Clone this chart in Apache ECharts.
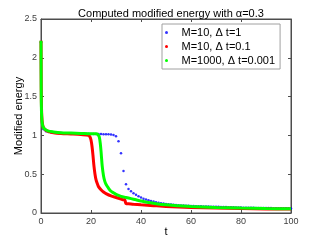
<!DOCTYPE html>
<html><head><meta charset="utf-8">
<script src="https://cdn.jsdelivr.net/npm/echarts@6/dist/echarts.min.js"></script>
<style>html,body{margin:0;padding:0;background:#fff}#c{width:321px;height:241px}</style>
</head><body><div id="c"></div>
<script>
var titleText = 'Computed modified energy with \u03b1=0.3';
var seriesNames = ['M=10, \u0394 t=1', 'M=10, \u0394 t=0.1', 'M=1000, \u0394 t=0.001'];
var xTicks = [0, 20, 40, 60, 80, 100];
var yTicks = [0, 0.5, 1, 1.5, 2, 2.5];

// Blue dots at t = 0,1,...,100
var blueT = [];
for (var i = 0; i <= 100; i++) blueT.push(i);
var blueV = [2.2, 1.08, 1.055, 1.045, 1.04, 1.035, 1.033, 1.031, 1.03, 1.029, 1.028,
  1.027, 1.026, 1.025, 1.024, 1.023, 1.022, 1.021, 1.02, 1.02, 1.019,
  1.018, 1.018, 1.017, 1.017, 1.016, 1.016, 1.015, 1.012, 1.005, 0.99,
  0.925, 0.77, 0.54, 0.37, 0.31, 0.28, 0.255, 0.235, 0.215, 0.2,
  0.185, 0.175, 0.165, 0.155, 0.147, 0.14, 0.133, 0.127, 0.121, 0.116,
  0.112, 0.108, 0.105, 0.102, 0.1, 0.098, 0.096, 0.094, 0.092, 0.09,
  0.089, 0.088, 0.087, 0.086, 0.085, 0.084, 0.083, 0.082, 0.081, 0.08,
  0.079, 0.078, 0.077, 0.076, 0.075, 0.074, 0.073, 0.072, 0.071, 0.07,
  0.069, 0.069, 0.068, 0.067, 0.067, 0.066, 0.065, 0.065, 0.064, 0.064,
  0.063, 0.063, 0.062, 0.062, 0.061, 0.061, 0.06, 0.06, 0.06, 0.059];

var redT = [0, 0.1, 0.2, 0.4, 0.7, 1, 1.5, 2, 3, 5, 8, 12, 16, 19, 19.6, 20, 20.4, 20.8, 21.2, 21.6, 22, 22.5, 23, 24, 25, 26, 28, 30, 32, 33, 33.4, 33.7, 34, 35, 37, 40, 45, 50, 55, 60, 70, 80, 90, 100];
var redV = [2.22, 1.6, 1.35, 1.2, 1.13, 1.1, 1.08, 1.065, 1.05, 1.035, 1.025, 1.018, 1.01, 1.0, 0.98, 0.94, 0.86, 0.74, 0.6, 0.5, 0.43, 0.38, 0.34, 0.3, 0.27, 0.25, 0.22, 0.2, 0.18, 0.17, 0.175, 0.15, 0.12, 0.118, 0.112, 0.105, 0.095, 0.085, 0.078, 0.072, 0.064, 0.058, 0.053, 0.05];

var greenT = [0, 0.05, 0.1, 0.2, 0.4, 0.7, 1, 1.5, 2, 3, 5, 8, 12, 16, 20, 22, 22.8, 23.3, 23.7, 24.1, 24.5, 25, 25.5, 26, 27, 28, 29, 30, 32, 34, 36, 38, 40, 43, 46, 50, 55, 60, 70, 80, 90, 100];
var greenV = [2.22, 1.8, 1.5, 1.3, 1.18, 1.12, 1.1, 1.08, 1.07, 1.055, 1.045, 1.035, 1.03, 1.025, 1.02, 1.02, 1.01, 0.98, 0.9, 0.76, 0.6, 0.48, 0.41, 0.37, 0.32, 0.28, 0.26, 0.24, 0.215, 0.2, 0.185, 0.17, 0.155, 0.135, 0.12, 0.105, 0.095, 0.085, 0.072, 0.064, 0.058, 0.054];

function zip(a, b) { return a.map(function (v, i) { return [v, b[i]]; }); }

var axisColor = '#4d4d4d';
var labelStyle = { fontSize: 9, color: '#404040', fontFamily: 'Liberation Sans, Arial, sans-serif' };
var chart = echarts.init(document.getElementById('c'), null, { renderer: 'canvas' });
chart.setOption({
  animation: false,
  backgroundColor: '#fff',
  textStyle: { fontFamily: 'Liberation Sans, Arial, sans-serif' },
  title: {
    text: titleText, left: 166, top: 3, textAlign: 'center',
    textStyle: { fontSize: 11, fontWeight: 'normal', color: '#000' }
  },
  legend: {
    orient: 'vertical', left: 162, top: 24,
    padding: [2, 5, 2, 3], itemGap: 1,
    itemWidth: 20, itemHeight: 3,
    backgroundColor: '#fff', borderColor: '#a0a0a0', borderWidth: 1,
    textStyle: { fontSize: 11, color: '#000', lineHeight: 13 },
    data: [
      { name: seriesNames[0], icon: 'circle', itemStyle: { color: '#0000ff' } },
      { name: seriesNames[1], icon: 'circle', itemStyle: { color: '#ff0000' } },
      { name: seriesNames[2], icon: 'circle', itemStyle: { color: '#00ff00' } }
    ]
  },
  grid: { left: 41, right: 30, top: 19, bottom: 28, containLabel: false, outerBoundsMode: 'none',
    show: true, borderColor: axisColor, borderWidth: 1, backgroundColor: 'transparent' },
  xAxis: [{
    type: 'value', min: 0, max: 100, interval: 20,
    name: 't', nameLocation: 'middle', nameGap: 13, nameMoveOverlap: false,
    nameTextStyle: { fontSize: 11, color: '#000' },
    axisLine: { show: true, lineStyle: { color: axisColor, width: 1 } },
    axisTick: { show: true, inside: true, length: 3, lineStyle: { color: axisColor } },
    axisLabel: Object.assign({ margin: 4 }, labelStyle),
    splitLine: { show: false }
  }, {
    type: 'value', min: 0, max: 100, interval: 20, position: 'top',
    axisLine: { show: true, onZero: false, lineStyle: { color: axisColor, width: 1 } },
    axisTick: { show: true, inside: true, length: 3, lineStyle: { color: axisColor } },
    axisLabel: { show: false }, splitLine: { show: false }
  }],
  yAxis: [{
    type: 'value', min: 0, max: 2.5, interval: 0.5,
    name: 'Modified energy', nameLocation: 'middle', nameGap: 17, nameMoveOverlap: false,
    nameTextStyle: { fontSize: 11, color: '#000' },
    axisLine: { show: true, lineStyle: { color: axisColor, width: 1 } },
    axisTick: { show: true, inside: true, length: 3, lineStyle: { color: axisColor } },
    axisLabel: Object.assign({ margin: 4 }, labelStyle),
    splitLine: { show: false }
  }, {
    type: 'value', min: 0, max: 2.5, interval: 0.5, position: 'right',
    axisLine: { show: true, onZero: false, lineStyle: { color: axisColor, width: 1 } },
    axisTick: { show: true, inside: true, length: 3, lineStyle: { color: axisColor } },
    axisLabel: { show: false }, splitLine: { show: false }
  }],
  series: [{
    name: seriesNames[0], type: 'scatter', symbol: 'circle', symbolSize: 2.5,
    itemStyle: { color: '#0000ff' }, data: zip(blueT, blueV), z: 2
  }, {
    name: seriesNames[1], type: 'line', showSymbol: false, smooth: 0.3,
    lineStyle: { color: '#ff0000', width: 3 }, itemStyle: { color: '#ff0000' },
    data: zip(redT, redV), z: 3
  }, {
    name: seriesNames[2], type: 'line', showSymbol: false, smooth: 0.3,
    lineStyle: { color: '#00ff00', width: 3 }, itemStyle: { color: '#00ff00' },
    data: zip(greenT, greenV), z: 4
  }]
});
</script>
</body></html>
